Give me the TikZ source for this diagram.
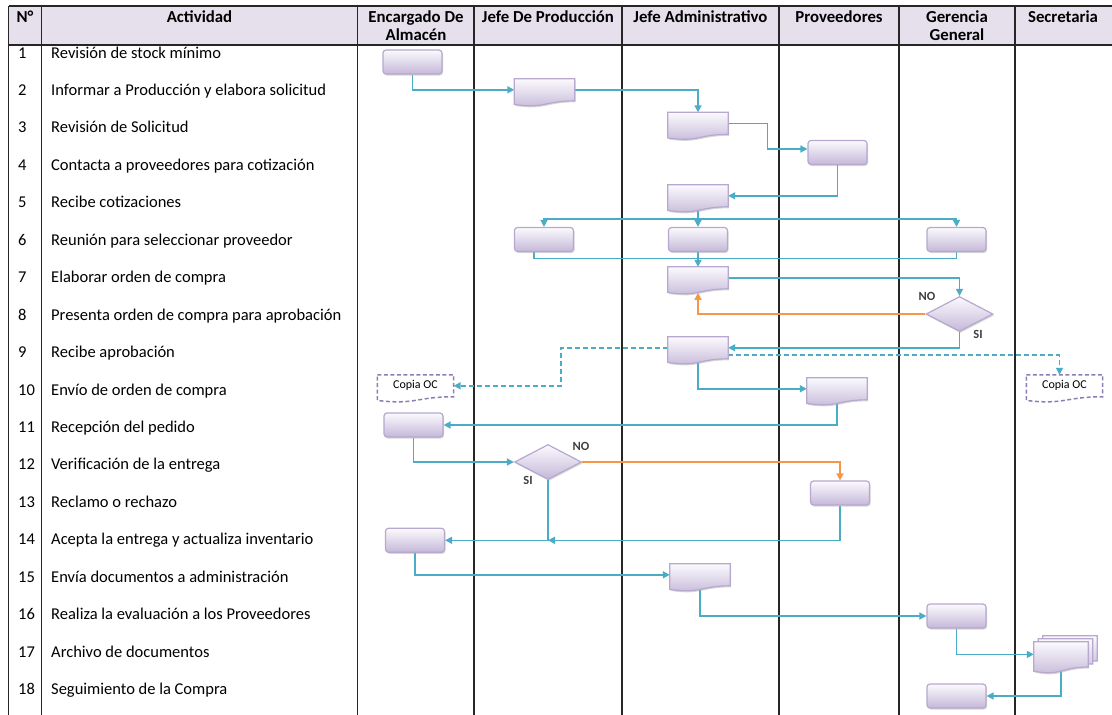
\documentclass[tikz,border=0pt]{standalone}
\usepackage{fontspec}
\setmainfont{Carlito}
\usetikzlibrary{arrows.meta,calc,shapes.geometric,shadows}

\definecolor{flowc}{HTML}{4BACC6}
\definecolor{noc}{HTML}{F79646}
\definecolor{shapetop}{HTML}{FBFAFD}
\definecolor{shapebot}{HTML}{C5B8D9}
\definecolor{shapeln}{HTML}{B6A8CF}
\definecolor{headfill}{HTML}{E6E0EC}
\definecolor{copyln}{HTML}{8E7CB6}
\definecolor{lblc}{HTML}{3F3F3F}

\pgfdeclarelayer{grid}
\pgfdeclarelayer{links}
\pgfsetlayers{grid,links,main}

\tikzset{
  tline/.style={line width=1.6pt, draw=black!85},
  tip/.style={-{Triangle[length=7pt,width=7pt]}},
  flowline/.style={draw=flowc, line width=1.6pt},
  flow/.style={flowline, tip},
  noflow/.style={draw=noc, line width=1.6pt, tip},
  copyflow/.style={flowline, dash pattern=on 5pt off 3pt, tip},
  shadefill/.style={draw=shapeln, line width=1.2pt, top color=shapetop, bottom color=shapebot},
  softshadow/.style={drop shadow={shadow xshift=1pt, shadow yshift=-1.5pt, fill=black!35, opacity=0.45}},
  procbox/.style={shadefill, softshadow, rounded corners=3pt, minimum width=59pt, minimum height=24pt, inner sep=0pt},
  docnode/.style={minimum width=60pt, minimum height=21.6pt, inner sep=0pt},
  copybox/.style={minimum width=76pt, minimum height=21.6pt, inner sep=0pt, font=\fontsize{12}{13}\selectfont},
  decision/.style={diamond, shadefill, softshadow, minimum width=67pt, minimum height=35pt, inner sep=0pt},
  docshadow/.style={fill=black!35, opacity=0.45, transform canvas={shift={(1pt,-1.5pt)}}},
  copyline/.style={draw=copyln, line width=1.5pt, dash pattern=on 4pt off 2.5pt},
  head/.style={anchor=base, inner sep=0pt, font=\bfseries\fontsize{16.8}{18}\selectfont},
  rowtext/.style={anchor=base west, inner sep=0pt, font=\fontsize{16.5}{18}\selectfont},
  lbl/.style={inner sep=0pt, text=lblc, font=\bfseries\fontsize{12.5}{14}\selectfont},
}

% document outline: flat top, Office-style wavy bottom below the node
\newcommand\docshape[3]{%
  \pgfmathsetmacro\docA{0.134*#3}%
  \pgfmathsetmacro\docB{0.307*#3}%
  \path[#1] (#2.north west) -- (#2.north east) -- (#2.south east)
    .. controls (#2.south) and ($(#2.south)+(0,\docB)$) .. ($(#2.south west)+(0,\docA)$) -- cycle;}

\begin{document}
\begin{tikzpicture}[x=1pt,y=-1pt]
\useasboundingbox (0,0) rectangle (1112,715);

% table
\begin{pgfonlayer}{grid}
  \fill[headfill] (8.5,6) rectangle (1112,45);
  \draw[tline] (8.5,6) -- (1112,6);
  \draw[tline] (8.5,45) -- (1112,45);
  \foreach \x in {8.5,41.5,357.5,474,622,779,899,1015}
    \draw[tline] (\x,6) -- (\x,716);
\end{pgfonlayer}

% column heads (two-line heads sit on the baseline of their last line)
\node[head] (hN) at (25,22.5) {N°};
\node[head] (hA) at (199.5,22.5) {Actividad};
\node[head, align=center] (hE) at (416,40.5) {Encargado De\\Almacén};
\node[head] (hJ) at (548,22.5) {Jefe De Producción};
\node[head] (hAd) at (700.5,22.5) {Jefe Administrativo};
\node[head] (hP) at (839,22.5) {Proveedores};
\node[head, align=center] (hG) at (957,40.5) {Gerencia\\General};
\node[head] (hS) at (1063,22.5) {Secretaria};

% activities
\foreach \i/\t in {1/Revisión de stock mínimo,
  2/Informar a Producción y elabora solicitud,
  3/Revisión de Solicitud,
  4/Contacta a proveedores para cotización,
  5/Recibe cotizaciones,
  6/Reunión para seleccionar proveedor,
  7/Elaborar orden de compra,
  8/Presenta orden de compra para aprobación,
  9/Recibe aprobación,
  10/Envío de orden de compra,
  11/Recepción del pedido,
  12/Verificación de la entrega,
  13/Reclamo o rechazo,
  14/Acepta la entrega y actualiza inventario,
  15/Envía documentos a administración,
  16/Realiza la evaluación a los Proveedores,
  17/Archivo de documentos,
  18/Seguimiento de la Compra}{
  \pgfmathsetmacro\ry{53+37.45*(\i-1)+5}
  \node[rowtext] (n\i) at (18,\ry) {\i};
  \node[rowtext] (t\i) at (51,\ry) {\t};
}

% process steps
\node[procbox] (b1) at (412.5,62) {};
\node[docnode] (d2) at (544.5,89.8) {};
\node[docnode] (d3) at (698,123.3) {};
\node[procbox] (b4) at (837.5,152.5) {};
\node[docnode] (d5) at (698,195.8) {};
\node[procbox] (b6a) at (544,239.5) {};
\node[procbox] (b6b) at (698,239.5) {};
\node[procbox] (b6c) at (956.5,239.5) {};
\node[docnode] (d7) at (698,277.8) {};
\node[decision] (g8) at (959.5,314) {};
\node[docnode] (d9) at (698,347.8) {};
\node[copybox] (cL) at (415.5,385.8) {Copia OC};
\node[copybox] (cR) at (1064.5,385.8) {Copia OC};
\node[docnode] (d10) at (837,388.8) {};
\node[procbox] (b11) at (413.5,425) {};
\node[decision] (g12) at (548,462) {};
\node[procbox] (b13) at (840,493) {};
\node[procbox] (b14) at (415,540.3) {};
\node[docnode] (d15) at (700,574.8) {};
\node[procbox] (b16) at (956.5,616) {};
\node[docnode, minimum width=54pt, minimum height=24.8pt] (m17) at (1061,654.4) {};
\node[procbox] (b18) at (956.5,696) {};

% document outlines
\foreach \d in {d2,d3,d5,d7,d9,d10,d15}{
  \docshape{docshadow}{\d}{27}
  \docshape{shadefill}{\d}{27}
}
\docshape{shadefill, transform canvas={shift={(9pt,6pt)}}}{m17}{31}
\docshape{shadefill, transform canvas={shift={(4.5pt,3pt)}}}{m17}{31}
\docshape{docshadow}{m17}{31}
\docshape{shadefill}{m17}{31}
\docshape{copyline}{cL}{27}
\docshape{copyline}{cR}{27}

% branch labels
\node[lbl] (no8) at (927,296) {NO};
\node[lbl] (si8) at (978,334) {SI};
\node[lbl] (no12) at (581,446) {NO};
\node[lbl] (si12) at (528,480.5) {SI};

% junctions
\coordinate (s6) at (698,219);
\coordinate (j7) at (698,258.3);

% connectors
\begin{pgfonlayer}{links}
  \draw[flow] (b1.south) |- (d2.west);
  \draw[flow] (d2.east) -| (d3.north);
  \draw[flow] (d3.east) -| ($(b4.west)+(-40,-3.5)$) -- ($(b4.west)+(0,-3.5)$);
  \draw[flow] (b4.south) |- (d5.east);
  \draw[flow] (d5.south) -- (b6b.north);
  \draw[flow] (s6) -| (b6a.north);
  \draw[flow] (s6) -| (b6c.north);
  \draw[flowline] ($(b6a.south)+(-10,0)$) |- (j7);
  \draw[flowline] (b6c.south) |- (j7);
  \draw[flow] (b6b.south) -- (d7.north);
  \draw[flow] (d7.east) -| (g8.north);
  \draw[noflow] (g8.west) -| ($(d7.south)+(0,4)$);
  \draw[flow] (g8.south) |- (d9.east);
  \draw[copyflow] (d9.west) -| ($(cL.east)+(107,0)$) -- (cL.east);
  \draw[copyflow] ($(d9.east)+(0,7)$) -| ($(cR.north)+(-5,0)$);
  \draw[flow] (d9.south) |- (d10.west);
  \draw[flow] (d10.south) |- (b11.east);
  \draw[flow] (b11.south) |- (g12.west);
  \draw[noflow] (g12.east) -| (b13.north);
  \draw[flow] (b13.south) |- (g12.south |- b14.east);
  \draw[flow] (g12.south) |- (b14.east);
  \draw[flow] (b14.south) |- (d15.west);
  \draw[flow] (d15.south) |- (b16.west);
  \draw[flow] (b16.south) |- (m17.west);
  \draw[flow] (m17.south) |- (b18.east);
\end{pgfonlayer}
\end{tikzpicture}
\end{document}
